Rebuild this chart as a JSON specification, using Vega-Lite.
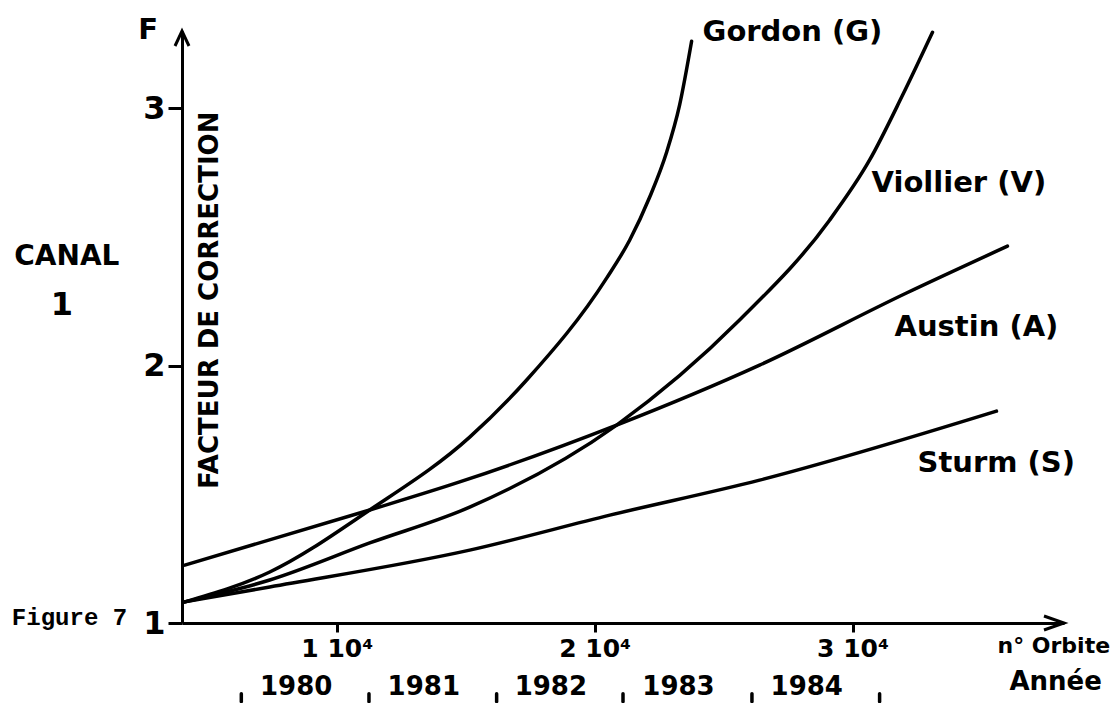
{
  "$schema": "https://vega.github.io/schema/vega-lite/v6.json",
  "width": 882,
  "height": 592,
  "autosize": "none",
  "padding": {"left": 182, "top": 31, "right": 56, "bottom": 80},
  "background": "white",
  "config": {"view": {"stroke": null}},
  "layer": [
    {
      "data": {"values": [
        {"series": "Gordon", "x": 4109, "y": 1.082},
        {"series": "Gordon", "x": 7403, "y": 1.198},
        {"series": "Gordon", "x": 11279, "y": 1.439},
        {"series": "Gordon", "x": 15155, "y": 1.722},
        {"series": "Gordon", "x": 17364, "y": 1.944},
        {"series": "Gordon", "x": 20465, "y": 2.34},
        {"series": "Gordon", "x": 21357, "y": 2.487},
        {"series": "Gordon", "x": 22132, "y": 2.654},
        {"series": "Gordon", "x": 22791, "y": 2.829},
        {"series": "Gordon", "x": 23294, "y": 3.012},
        {"series": "Gordon", "x": 23760, "y": 3.26},
        {"series": "Viollier", "x": 4109, "y": 1.082},
        {"series": "Viollier", "x": 7403, "y": 1.167},
        {"series": "Viollier", "x": 11279, "y": 1.311},
        {"series": "Viollier", "x": 15155, "y": 1.45},
        {"series": "Viollier", "x": 20853, "y": 1.769},
        {"series": "Viollier", "x": 25620, "y": 2.177},
        {"series": "Viollier", "x": 29109, "y": 2.565},
        {"series": "Viollier", "x": 30659, "y": 2.798},
        {"series": "Viollier", "x": 31938, "y": 3.05},
        {"series": "Viollier", "x": 33101, "y": 3.295},
        {"series": "Austin", "x": 4109, "y": 1.225},
        {"series": "Austin", "x": 11279, "y": 1.439},
        {"series": "Austin", "x": 14767, "y": 1.548},
        {"series": "Austin", "x": 20853, "y": 1.769},
        {"series": "Austin", "x": 26396, "y": 2.002},
        {"series": "Austin", "x": 32093, "y": 2.282},
        {"series": "Austin", "x": 36008, "y": 2.464},
        {"series": "Sturm", "x": 4109, "y": 1.082},
        {"series": "Sturm", "x": 7403, "y": 1.14},
        {"series": "Sturm", "x": 15155, "y": 1.283},
        {"series": "Sturm", "x": 20589, "y": 1.419},
        {"series": "Sturm", "x": 26396, "y": 1.555},
        {"series": "Sturm", "x": 35582, "y": 1.823}
      ]},
      "mark": {"type": "line", "interpolate": "monotone", "color": "black", "strokeWidth": 3.5, "strokeCap": "round"},
      "encoding": {
        "x": {"field": "x", "type": "quantitative",
          "scale": {"domain": [4000, 38200], "nice": false, "zero": false},
          "axis": {"title": null, "grid": false, "values": [10000, 20000, 30000],
            "labelExpr": "(datum.value/10000) + ' 10⁴'",
            "domainColor": "black", "domainWidth": 3, "tickColor": "black", "tickWidth": 3, "tickSize": 9,
            "labelFont": "DejaVu Sans", "labelFontWeight": "bold", "labelFontSize": 25, "labelColor": "black", "labelPadding": 4, "labelFlush": false}},
        "y": {"field": "y", "type": "quantitative",
          "scale": {"domain": [1, 3.3], "nice": false, "zero": false},
          "axis": {"title": null, "grid": false, "values": [1, 2, 3], "format": "d",
            "domainColor": "black", "domainWidth": 3, "tickColor": "black", "tickWidth": 3, "tickSize": 14,
            "labelFont": "DejaVu Sans", "labelFontWeight": "bold", "labelFontSize": 32, "labelColor": "black", "labelPadding": 3, "labelFlush": false}},
        "detail": {"field": "series", "type": "nominal"}
      }
    },
    {
      "data": {"values": [
        {"label": "Gordon (G)", "x": 24186, "y": 3.295},
        {"label": "Viollier (V)", "x": 30737, "y": 2.709},
        {"label": "Austin (A)", "x": 31628, "y": 2.15},
        {"label": "Sturm (S)", "x": 32520, "y": 1.621},
        {"label": "F", "x": 2300, "y": 3.303}
      ]},
      "mark": {"type": "text", "align": "left", "baseline": "middle", "font": "DejaVu Sans", "fontWeight": "bold", "fontSize": 29, "color": "black"},
      "encoding": {
        "x": {"field": "x", "type": "quantitative", "scale": {"domain": [4000, 38200], "nice": false, "zero": false}},
        "y": {"field": "y", "type": "quantitative", "scale": {"domain": [1, 3.3], "nice": false, "zero": false}},
        "text": {"field": "label"}
      }
    },
    {
      "data": {"values": [{"x": 38200, "y": 1}]},
      "mark": {"type": "point", "shape": "M -4 -1.4 L 0 0 L -4 1.4", "size": 100, "filled": false, "stroke": "black", "strokeWidth": 3, "strokeJoin": "miter", "opacity": 1},
      "encoding": {
        "x": {"field": "x", "type": "quantitative", "scale": {"domain": [4000, 38200], "nice": false, "zero": false}},
        "y": {"field": "y", "type": "quantitative", "scale": {"domain": [1, 3.3], "nice": false, "zero": false}}
      }
    },
    {
      "data": {"values": [{"x": 4000, "y": 3.3}]},
      "mark": {"type": "point", "shape": "M -1.4 3 L 0 0 L 1.4 3", "size": 100, "filled": false, "stroke": "black", "strokeWidth": 3, "strokeJoin": "miter", "opacity": 1},
      "encoding": {
        "x": {"field": "x", "type": "quantitative", "scale": {"domain": [4000, 38200], "nice": false, "zero": false}},
        "y": {"field": "y", "type": "quantitative", "scale": {"domain": [1, 3.3], "nice": false, "zero": false}}
      }
    },
    {
      "data": {"values": [{"x": 6300}, {"x": 11250}, {"x": 16200}, {"x": 21100}, {"x": 26100}, {"x": 31050}]},
      "mark": {"type": "rule", "color": "black", "strokeWidth": 3.5, "strokeCap": "round"},
      "encoding": {
        "x": {"field": "x", "type": "quantitative", "scale": {"domain": [4000, 38200], "nice": false, "zero": false}},
        "y": {"datum": 0.725, "type": "quantitative", "scale": {"domain": [1, 3.3], "nice": false, "zero": false}},
        "y2": {"datum": 0.695}
      }
    },
    {
      "data": {"values": [
        {"year": "1980", "x": 8775},
        {"year": "1981", "x": 13725},
        {"year": "1982", "x": 18650},
        {"year": "1983", "x": 23600},
        {"year": "1984", "x": 28575}
      ]},
      "mark": {"type": "text", "align": "center", "baseline": "middle", "dx": -9, "font": "DejaVu Sans", "fontWeight": "bold", "fontSize": 26, "color": "black"},
      "encoding": {
        "x": {"field": "x", "type": "quantitative", "scale": {"domain": [4000, 38200], "nice": false, "zero": false}},
        "y": {"datum": 0.751, "type": "quantitative", "scale": {"domain": [1, 3.3], "nice": false, "zero": false}},
        "text": {"field": "year"}
      }
    },
    {
      "data": {"values": [{"label": "CANAL", "x": -465, "y": 2.421}]},
      "mark": {"type": "text", "align": "center", "baseline": "middle", "font": "DejaVu Sans", "fontWeight": "bold", "fontSize": 28, "color": "black"},
      "encoding": {
        "x": {"field": "x", "type": "quantitative", "scale": {"domain": [4000, 38200], "nice": false, "zero": false}},
        "y": {"field": "y", "type": "quantitative", "scale": {"domain": [1, 3.3], "nice": false, "zero": false}},
        "text": {"field": "label"}
      }
    },
    {
      "data": {"values": [{"label": "1", "x": -660, "y": 2.235}]},
      "mark": {"type": "text", "align": "center", "baseline": "middle", "font": "DejaVu Sans", "fontWeight": "bold", "fontSize": 32, "color": "black"},
      "encoding": {
        "x": {"field": "x", "type": "quantitative", "scale": {"domain": [4000, 38200], "nice": false, "zero": false}},
        "y": {"field": "y", "type": "quantitative", "scale": {"domain": [1, 3.3], "nice": false, "zero": false}},
        "text": {"field": "label"}
      }
    },
    {
      "data": {"values": [{"label": "FACTEUR DE CORRECTION", "x": 5078, "y": 2.254}]},
      "mark": {"type": "text", "align": "center", "baseline": "middle", "angle": 270, "font": "DejaVu Sans", "fontWeight": "bold", "fontSize": 26, "color": "black"},
      "encoding": {
        "x": {"field": "x", "type": "quantitative", "scale": {"domain": [4000, 38200], "nice": false, "zero": false}},
        "y": {"field": "y", "type": "quantitative", "scale": {"domain": [1, 3.3], "nice": false, "zero": false}},
        "text": {"field": "label"}
      }
    },
    {
      "data": {"values": [{"label": "Figure 7", "x": -2597, "y": 1.02}]},
      "mark": {"type": "text", "align": "left", "baseline": "middle", "font": "Liberation Mono", "fontWeight": "bold", "fontSize": 24, "color": "black"},
      "encoding": {
        "x": {"field": "x", "type": "quantitative", "scale": {"domain": [4000, 38200], "nice": false, "zero": false}},
        "y": {"field": "y", "type": "quantitative", "scale": {"domain": [1, 3.3], "nice": false, "zero": false}},
        "text": {"field": "label"}
      }
    },
    {
      "data": {"values": [{"label": "n° Orbite", "x": 35620, "y": 0.911}]},
      "mark": {"type": "text", "align": "left", "baseline": "middle", "font": "DejaVu Sans", "fontWeight": "bold", "fontSize": 22, "color": "black"},
      "encoding": {
        "x": {"field": "x", "type": "quantitative", "scale": {"domain": [4000, 38200], "nice": false, "zero": false}},
        "y": {"field": "y", "type": "quantitative", "scale": {"domain": [1, 3.3], "nice": false, "zero": false}},
        "text": {"field": "label"}
      }
    },
    {
      "data": {"values": [{"label": "Année", "x": 36085, "y": 0.771}]},
      "mark": {"type": "text", "align": "left", "baseline": "middle", "font": "DejaVu Sans", "fontWeight": "bold", "fontSize": 26, "color": "black"},
      "encoding": {
        "x": {"field": "x", "type": "quantitative", "scale": {"domain": [4000, 38200], "nice": false, "zero": false}},
        "y": {"field": "y", "type": "quantitative", "scale": {"domain": [1, 3.3], "nice": false, "zero": false}},
        "text": {"field": "label"}
      }
    }
  ]
}
